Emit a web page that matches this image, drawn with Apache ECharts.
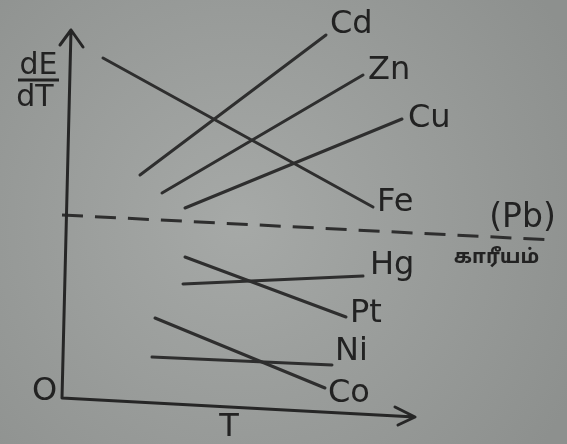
<!DOCTYPE html>
<html>
<head>
<meta charset="utf-8">
<script src="https://cdn.jsdelivr.net/npm/echarts@6/dist/echarts.min.js"></script>
<style>
  html, body { margin: 0; padding: 0; }
  #chart { width: 567px; height: 444px; }
</style>
</head>
<body>
<div id="chart"></div>
<script>
// Thermoelectric power dE/dT against temperature T for several metals.
// Each line: [T at start, dE/dT at start], [T at end, dE/dT at end] (arbitrary units, origin at O).
const metals = ['Cd', 'Zn', 'Cu', 'Fe', 'Hg', 'Pt', 'Ni', 'Co'];
const Cd = [[78, 223], [264, 363]];
const Zn = [[100, 205], [301, 323]];
const Cu = [[123, 190], [340, 279]];
const Fe = [[41, 340], [311, 191]];
const Hg = [[121, 114], [301, 122]];
const Pt = [[123, 141], [284, 81]];
const Ni = [[90, 41], [270, 33]];
const Co = [[93, 80], [263, 10]];
// Lead reference line (dE/dT of Pb)
const Pb = [[0, 183], [490, 158]];
// Axes with open arrow heads
const axisPath = [[-2, 353], [9, 368], [21, 351], [9, 368], [0, 0], [353, -19], [333, -9], [353, -19], [336, -27]];

const metalData = { Cd, Zn, Cu, Fe, Hg, Pt, Ni, Co };
// label offsets from each line's end point (pixels)
const labelOffset = {
  Cd: [4, -10], Zn: [5, -4], Cu: [6, 0], Fe: [4, -4],
  Hg: [7, -10], Pt: [4, -3], Ni: [3, -13], Co: [3, 6]
};

const ink = '#222222';
const textFont = 'DejaVu Sans';

const chart = echarts.init(document.getElementById('chart'));

const series = metals.map(name => ({
  name,
  type: 'line',
  data: metalData[name],
  symbol: 'none',
  silent: true,
  lineStyle: { color: '#2e2e2e', width: 3, cap: 'round' },
  endLabel: {
    show: true,
    formatter: name,
    distance: 0,
    offset: labelOffset[name],
    color: ink,
    fontFamily: textFont,
    fontSize: 32,
    align: 'left',
    verticalAlign: 'middle'
  }
}));

series.push({
  name: 'Pb',
  type: 'line',
  data: Pb,
  symbol: 'none',
  silent: true,
  lineStyle: { color: '#2e2e2e', width: 3, type: [21, 12] }
});

series.push({
  name: 'axes',
  type: 'line',
  data: axisPath,
  symbol: 'none',
  silent: true,
  lineStyle: { color: '#262626', width: 3, join: 'round', cap: 'round' }
});

const txt = (text, x, y, size, extra) => ({
  type: 'text',
  x, y,
  silent: true,
  style: Object.assign({
    text,
    fill: ink,
    font: size + 'px "' + textFont + '"',
    align: 'center',
    verticalAlign: 'middle'
  }, extra || {})
});

chart.setOption({
  animation: false,
  backgroundColor: {
    type: 'radial', x: 0.42, y: 0.5, r: 0.85,
    colorStops: [
      { offset: 0, color: '#a6a9a7' },
      { offset: 1, color: '#8d908e' }
    ]
  },
  grid: { left: 0, right: 0, top: 0, bottom: 0 },
  xAxis: { type: 'value', min: -62, max: 505, show: false },
  yAxis: { type: 'value', min: -46, max: 398, show: false },
  series,
  graphic: [
    txt('O', 44.5, 392, 32),
    txt('T', 229, 428, 32),
    txt('dE', 38.5, 66, 30),
    txt('dT', 35, 98, 30),
    {
      type: 'line', silent: true,
      shape: { x1: 18, y1: 80, x2: 59, y2: 80 },
      style: { stroke: ink, lineWidth: 3 }
    },
    txt('(Pb)', 522.5, 218, 33),
    txt('காரீயம்', 496.5, 258.5, 20, { font: 'bold 20px "Noto Sans Tamil", "Lohit Tamil", "DejaVu Sans", sans-serif' })
  ]
});
</script>
</body>
</html>
